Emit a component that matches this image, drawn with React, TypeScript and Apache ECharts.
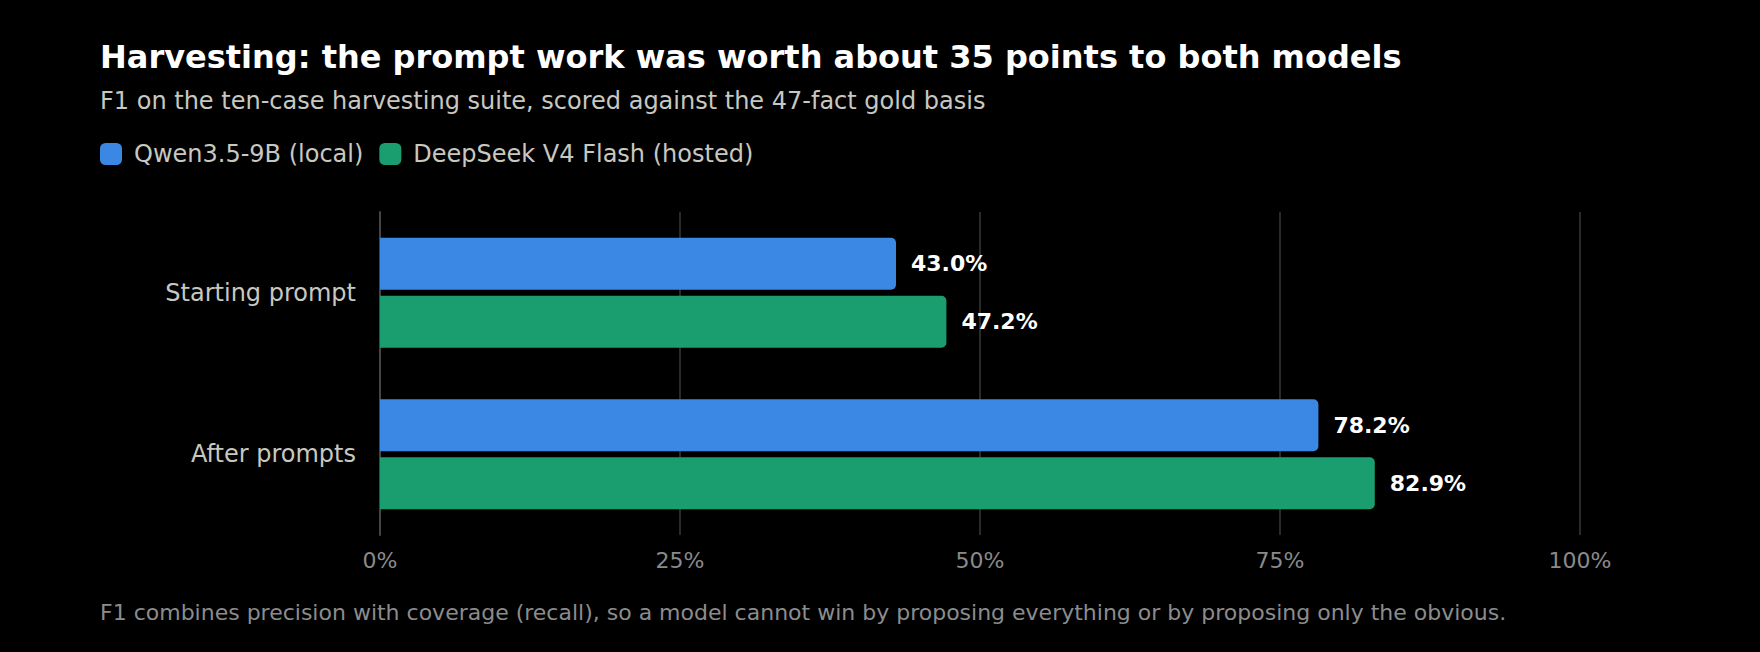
import React, { useEffect, useRef } from "react";
import * as echarts from "echarts";

const categories = ["Starting prompt", "After prompts"];
const seriesNames = ["Qwen3.5-9B (local)", "DeepSeek V4 Flash (hosted)"];
const qwenValues = [43.0, 78.2];
const deepseekValues = [47.2, 82.9];
const xTicks = [0, 25, 50, 75, 100];

const titleText = "Harvesting: the prompt work was worth about 35 points to both models";
const subtitleText = "F1 on the ten-case harvesting suite, scored against the 47-fact gold basis";
const footnoteText =
  "F1 combines precision with coverage (recall), so a model cannot win by proposing everything or by proposing only the obvious.";

const FONT = "DejaVu Sans";
const BLUE = "#3a88e4";
const GREEN = "#1a9e6f";

export default function App() {
  const ref = useRef<HTMLDivElement>(null);
  useEffect(() => {
    document.body.style.margin = "0";
    document.body.style.background = "#000";
    if (!ref.current) return;
    const chart = echarts.init(ref.current, undefined, { renderer: "svg" });
    const labelStyle = {
      show: true,
      position: "right" as const,
      distance: 15,
      color: "#ffffff",
      fontFamily: FONT,
      fontSize: 22,
      fontWeight: "bold" as const,
      formatter: (p: any) => `${Number(p.value).toFixed(1)}%`,
    };
    chart.setOption({
      animation: false,
      backgroundColor: "#000000",
      textStyle: { fontFamily: FONT },
      graphic: [
        {
          type: "text",
          x: 100,
          y: 57,
          style: {
            text: titleText,
            fill: "#ffffff",
            font: `bold 32px "${FONT}"`,
            verticalAlign: "middle",
          },
        },
        {
          type: "text",
          x: 100,
          y: 101,
          style: {
            text: subtitleText,
            fill: "#c8c8c0",
            font: `24px "${FONT}"`,
            verticalAlign: "middle",
          },
        },
        {
          type: "text",
          x: 100,
          y: 612,
          style: {
            text: footnoteText,
            fill: "#8c8c8c",
            font: `22px "${FONT}"`,
            verticalAlign: "middle",
          },
        },
      ],
      legend: {
        left: 100,
        top: 142,
        padding: 0,
        itemWidth: 22,
        itemHeight: 22,
        itemGap: 16,
        icon: "roundRect",
        data: seriesNames,
        textStyle: {
          color: "#c8c8c0",
          fontFamily: FONT,
          fontSize: 24,
          padding: [0, 0, 0, 7],
        },
      },
      grid: { left: 380, right: 180, top: 212, bottom: 117 },
      xAxis: {
        type: "value",
        min: 0,
        max: 100,
        interval: 25,
        axisLine: { show: false },
        axisTick: { show: false },
        axisLabel: {
          color: "#8a8a8a",
          fontFamily: FONT,
          fontSize: 22,
          margin: 14,
          formatter: (v: number) => (xTicks.includes(v) ? `${v}%` : ""),
        },
        splitLine: { show: true, lineStyle: { color: "#383838", width: 1.5 } },
      },
      yAxis: {
        type: "category",
        data: categories,
        inverse: true,
        axisLine: { show: true, lineStyle: { color: "#444444", width: 2 } },
        axisTick: { show: false },
        axisLabel: {
          color: "#c8c8c0",
          fontFamily: FONT,
          fontSize: 24,
          margin: 24,
        },
      },
      series: [
        {
          name: seriesNames[0],
          type: "bar",
          data: qwenValues,
          barWidth: 52,
          barGap: "11.5%",
          itemStyle: { color: BLUE, borderRadius: [0, 5, 5, 0] },
          label: labelStyle,
        },
        {
          name: seriesNames[1],
          type: "bar",
          data: deepseekValues,
          barWidth: 52,
          barGap: "11.5%",
          itemStyle: { color: GREEN, borderRadius: [0, 5, 5, 0] },
          label: labelStyle,
        },
      ],
    });
    return () => chart.dispose();
  }, []);
  return (
    <div
      ref={ref}
      style={{ position: "absolute", left: 0, top: 0, width: 1760, height: 652 }}
    />
  );
}
